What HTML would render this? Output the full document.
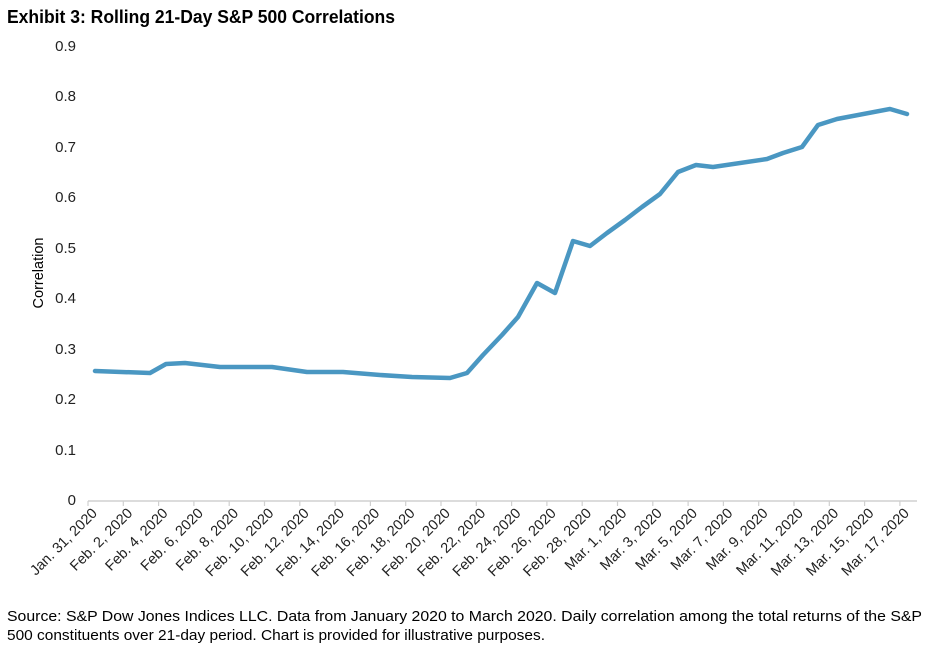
<!DOCTYPE html>
<html><head><meta charset="utf-8"><style>
html,body{margin:0;padding:0;background:#fff;}
svg{display:block;font-family:"Liberation Sans",Arial,sans-serif;}
</style></head><body>
<svg width="941" height="654" viewBox="0 0 941 654" xmlns="http://www.w3.org/2000/svg">
<text x="7" y="23" font-size="18" font-weight="bold" fill="#000" textLength="388" lengthAdjust="spacingAndGlyphs">Exhibit 3: Rolling 21-Day S&amp;P 500 Correlations</text>
<g font-size="15" fill="#222" text-anchor="end">
<text x="76" y="51">0.9</text>
<text x="76" y="101">0.8</text>
<text x="76" y="152">0.7</text>
<text x="76" y="202">0.6</text>
<text x="76" y="253">0.5</text>
<text x="76" y="303">0.4</text>
<text x="76" y="354">0.3</text>
<text x="76" y="404">0.2</text>
<text x="76" y="455">0.1</text>
<text x="76" y="505">0</text>
</g>
<text transform="translate(43,273) rotate(-90)" font-size="14.5" text-anchor="middle" fill="#000">Correlation</text>
<line x1="88" y1="501" x2="917" y2="501" stroke="#d0d0d0" stroke-width="1.5"/>
<polyline fill="none" stroke="#4a97c2" stroke-width="4.5" stroke-linejoin="round" stroke-linecap="round"
points="95,371 150,373 166,364 185,363 220,367 272,367 307,372 343,372 380,375 412,377 450,378 467,373 483,355 502,335 518,317 537,283 555,293 573,241 590,246 607,233 625,220 642,207 660,194 678,172 696,165 713,167 767,159 783,153 802,147 818,125 837,119 890,109 907,114"/>
<g font-size="14.5" fill="#000">
<text x="7" y="621" textLength="915" lengthAdjust="spacingAndGlyphs">Source: S&amp;P Dow Jones Indices LLC. Data from January 2020 to March 2020. Daily correlation among the total returns of the S&amp;P</text>
<text x="7" y="640" textLength="538" lengthAdjust="spacingAndGlyphs">500 constituents over 21-day period. Chart is provided for illustrative purposes.</text>
</g>
<g stroke="#d0d0d0" stroke-width="1.2">
<line x1="88" y1="501" x2="88" y2="506"/><line x1="123.3" y1="501" x2="123.3" y2="506"/><line x1="158.6" y1="501" x2="158.6" y2="506"/><line x1="193.9" y1="501" x2="193.9" y2="506"/><line x1="229.2" y1="501" x2="229.2" y2="506"/><line x1="264.5" y1="501" x2="264.5" y2="506"/><line x1="299.8" y1="501" x2="299.8" y2="506"/><line x1="335.1" y1="501" x2="335.1" y2="506"/><line x1="370.4" y1="501" x2="370.4" y2="506"/><line x1="405.7" y1="501" x2="405.7" y2="506"/><line x1="441" y1="501" x2="441" y2="506"/><line x1="476.3" y1="501" x2="476.3" y2="506"/><line x1="511.6" y1="501" x2="511.6" y2="506"/><line x1="546.9" y1="501" x2="546.9" y2="506"/><line x1="582.2" y1="501" x2="582.2" y2="506"/><line x1="617.5" y1="501" x2="617.5" y2="506"/><line x1="652.8" y1="501" x2="652.8" y2="506"/><line x1="688.1" y1="501" x2="688.1" y2="506"/><line x1="723.4" y1="501" x2="723.4" y2="506"/><line x1="758.7" y1="501" x2="758.7" y2="506"/><line x1="794" y1="501" x2="794" y2="506"/><line x1="829.3" y1="501" x2="829.3" y2="506"/><line x1="864.6" y1="501" x2="864.6" y2="506"/><line x1="899.9" y1="501" x2="899.9" y2="506"/>
</g>
<g font-size="14.5" fill="#222" text-anchor="end">
<text transform="translate(98,514) rotate(-45)">Jan. 31, 2020</text>
<text transform="translate(133.3,514) rotate(-45)">Feb. 2, 2020</text>
<text transform="translate(168.6,514) rotate(-45)">Feb. 4, 2020</text>
<text transform="translate(203.9,514) rotate(-45)">Feb. 6, 2020</text>
<text transform="translate(239.2,514) rotate(-45)">Feb. 8, 2020</text>
<text transform="translate(274.5,514) rotate(-45)">Feb. 10, 2020</text>
<text transform="translate(309.8,514) rotate(-45)">Feb. 12, 2020</text>
<text transform="translate(345.1,514) rotate(-45)">Feb. 14, 2020</text>
<text transform="translate(380.4,514) rotate(-45)">Feb. 16, 2020</text>
<text transform="translate(415.7,514) rotate(-45)">Feb. 18, 2020</text>
<text transform="translate(451,514) rotate(-45)">Feb. 20, 2020</text>
<text transform="translate(486.3,514) rotate(-45)">Feb. 22, 2020</text>
<text transform="translate(521.6,514) rotate(-45)">Feb. 24, 2020</text>
<text transform="translate(556.9,514) rotate(-45)">Feb. 26, 2020</text>
<text transform="translate(592.2,514) rotate(-45)">Feb. 28, 2020</text>
<text transform="translate(627.5,514) rotate(-45)">Mar. 1, 2020</text>
<text transform="translate(662.8,514) rotate(-45)">Mar. 3, 2020</text>
<text transform="translate(698.1,514) rotate(-45)">Mar. 5, 2020</text>
<text transform="translate(733.4,514) rotate(-45)">Mar. 7, 2020</text>
<text transform="translate(768.7,514) rotate(-45)">Mar. 9, 2020</text>
<text transform="translate(804,514) rotate(-45)">Mar. 11, 2020</text>
<text transform="translate(839.3,514) rotate(-45)">Mar. 13, 2020</text>
<text transform="translate(874.6,514) rotate(-45)">Mar. 15, 2020</text>
<text transform="translate(909.9,514) rotate(-45)">Mar. 17, 2020</text>
</g>
</svg>
</body></html>
